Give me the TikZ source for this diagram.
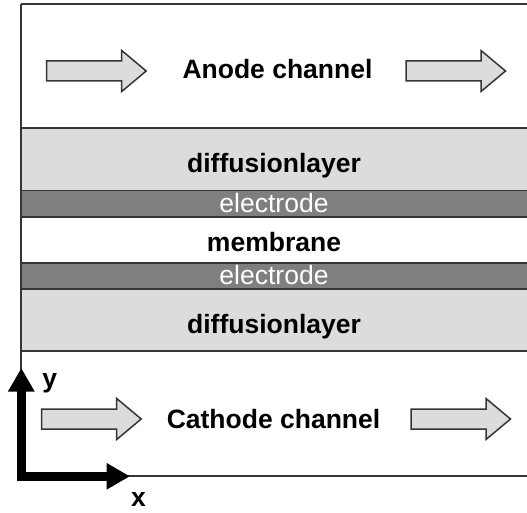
\documentclass[tikz,border=0pt]{standalone}
\usepackage{fontspec}
\setmainfont{Liberation Sans}
\usetikzlibrary{arrows.meta}

\definecolor{edgegray}{HTML}{353535}
\definecolor{layerlight}{HTML}{DCDCDC}
\definecolor{layerdark}{HTML}{7F7F7F}

\tikzset{
  layer/.style={fill=#1, draw=none},
  rule/.style={draw=edgegray, line width=1.9pt},
  label/.style={inner sep=0pt, anchor=base, font=\fontsize{26.5}{30}\selectfont\bfseries},
  eltext/.style={inner sep=0pt, anchor=base, text=white, font=\fontsize{26.5}{30}\selectfont},
  arrowbody/.style={fill=layerlight, draw=edgegray, line width=1.5pt, line join=miter},
  flowarrow/.pic={
    \draw[arrowbody] (0,-10) -- (75,-10) -- (75,-20.5) -- (99.5,0)
      -- (75,20.5) -- (75,10) -- (0,10) -- cycle;
  },
  axis/.style={line width=9pt, line join=miter,
    arrows={Triangle[length=23.5pt,width=25pt]-Triangle[length=23.5pt,width=25pt]}}
}

\begin{document}
\begin{tikzpicture}[x=1pt, y=-1pt]
  \useasboundingbox (0,0) rectangle (527,513);

  % layer fills
  \fill[layer=layerlight] (21,128.3) rectangle (529,190.5);
  \fill[layer=layerdark]  (21,190.5) rectangle (529,216.7);
  \fill[layer=layerdark]  (21,263.3) rectangle (529,289.3);
  \fill[layer=layerlight] (21,289.3) rectangle (529,351);

  % layer boundaries
  \foreach \yy in {4,128.3,190.5,216.7,263.3,289.3,351,476}
    \draw[rule] (21,\yy) -- (529,\yy);
  \draw[rule] (21,4) -- (21,476);

  % flow arrows
  \pic at (46.7,71) {flowarrow};
  \pic at (406,71) {flowarrow};
  \pic at (41.7,419) {flowarrow};
  \pic at (411,419) {flowarrow};

  % layer labels
  \node[label]  (anode)    at (277.5,78.3)  {Anode channel};
  \node[label]  (gdlA)     at (274,172.5)   {diffusionlayer};
  \node[eltext] (elA)      at (274,212)     {electrode};
  \node[label]  (membrane) at (274,251)     {membrane};
  \node[eltext] (elC)      at (274,284.5)   {electrode};
  \node[label]  (gdlC)     at (274,333.3)   {diffusionlayer};
  \node[label]  (cathode)  at (273.5,428.3) {Cathode channel};

  % coordinate axes
  \coordinate (origin) at (21.3,476.3);
  \coordinate (ytip) at (21.3,368);
  \coordinate (xtip) at (130,476.3);
  \draw[axis] (ytip) -- (origin) -- (xtip);
  \node[label] (ylab) at (49.7,387.5) {y};
  \node[label] (xlab) at (138.5,506.7) {x};
\end{tikzpicture}
\end{document}
